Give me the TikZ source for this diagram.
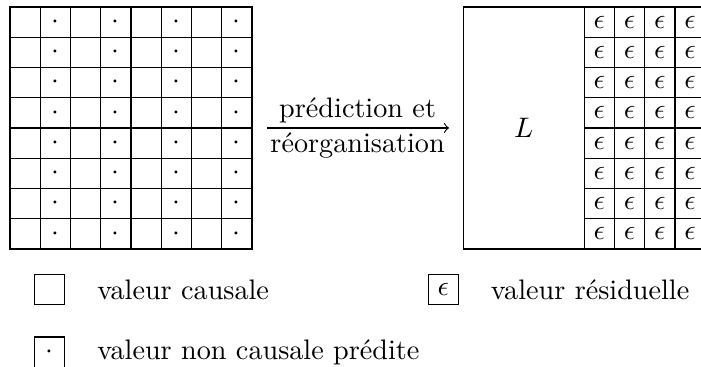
\documentclass[tikz,border=0pt]{standalone}
\usetikzlibrary{positioning}
\tikzset{cell/.style={draw, minimum size=10.73pt, inner sep=0pt, outer sep=0pt}}
\begin{document}
\begin{tikzpicture}[x=10.73pt,y=10.73pt]
    \useasboundingbox (0,0) rectangle (23.17,-12.13);
    \node[minimum size=85.84pt, inner sep=0pt, outer sep=0pt] (orig) at (4.33,-4.23) {};
    \foreach \j in {0,...,7}{
        \foreach \i in {0,2,4,6} \node[cell] (a\i\j) at (0.83+\i,-0.73-\j) {};
        \foreach \i in {1,3,5,7} \node[cell] (a\i\j) at (0.83+\i,-0.73-\j) {$\cdot$};
    }
    \node[cell, minimum width=42.92pt, minimum height=85.84pt] (L) at (17.31,-4.23) {$L$};
    \foreach \j in {0,...,7}
        \foreach \i in {0,...,3} \node[cell] (e\i\j) at (19.81+\i,-0.73-\j) {$\epsilon$};
    \draw[->, shorten <=5.4pt, shorten >=5pt](orig.east)--node[above, inner sep=1.5pt]{prédiction et}node[below, inner sep=1.5pt]{réorganisation}(L.west);
    % legende
    \node[cell] (kc) at (1.64,-9.57) {};
    \node[right=8pt of kc] (tc) {valeur causale};
    \node[cell] (kp) at (1.64,-11.64) {$\cdot$};
    \node[right=8pt of kp] (tp) {valeur non causale prédite};
    \node[cell] (kr) at (14.65,-9.57) {$\epsilon$};
    \node[right=8pt of kr] (tr) {valeur résiduelle};
\end{tikzpicture}
\end{document}
